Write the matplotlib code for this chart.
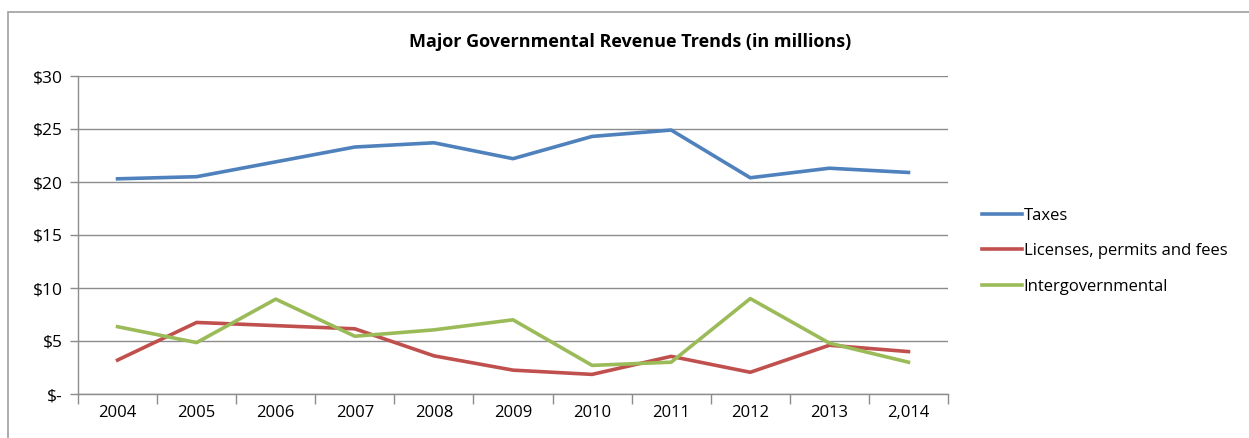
import matplotlib
matplotlib.use("Agg")
import matplotlib.pyplot as plt
from matplotlib.patches import Rectangle
from matplotlib.ticker import FixedLocator, FuncFormatter

plt.rcParams["font.family"] = ["Open Sans", "DejaVu Sans"]

# ── data (millions of dollars) ───────────────────────────────────────────────
years = ["2004", "2005", "2006", "2007", "2008", "2009",
         "2010", "2011", "2012", "2013", "2,014"]
taxes = [20.3, 20.5, 21.9, 23.3, 23.7, 22.2, 24.3, 24.9, 20.4, 21.3, 20.9]
licenses = [3.2, 6.75, 6.45, 6.15, 3.6, 2.25, 1.85, 3.55, 2.05, 4.6, 4.0]
intergov = [6.35, 4.85, 8.95, 5.45, 6.05, 7.0, 2.7, 3.0, 9.0, 4.8, 3.0]

series = [("Taxes", taxes, "#4F81BD"),
          ("Licenses, permits and fees", licenses, "#C0504D"),
          ("Intergovernmental", intergov, "#9BBB59")]

GRID = "#8C8C8C"

fig = plt.figure(figsize=(12.49, 4.38), dpi=100)
fig.patch.set_facecolor("white")

# chart-area border (runs off the right and bottom edges)
fig.patches.append(Rectangle((8 / 1249, -0.05), 1.1, 1.05 - 12 / 438,
                             transform=fig.transFigure, fill=False,
                             edgecolor="#A6A6A6", linewidth=1.3))

ax = fig.add_axes([78 / 1249, 1 - 394 / 438, 870 / 1249, 318 / 438])

x = list(range(len(years)))
for name, vals, color in series:
    ax.plot(x, vals, color=color, linewidth=2.6, label=name,
            solid_joinstyle="round")

ax.set_xlim(-0.5, len(years) - 0.5)
ax.set_ylim(0, 30)

# y axis: accounting style labels
ax.yaxis.set_major_locator(FixedLocator(range(0, 31, 5)))
ax.yaxis.set_major_formatter(
    FuncFormatter(lambda v, p: "$-" if v == 0 else f"${int(v)}"))
ax.grid(axis="y", color=GRID, linewidth=1.0)
ax.set_axisbelow(True)

# x axis: labels centred, tick marks between categories
ax.set_xticks(x)
ax.set_xticklabels(years)
ax.set_xticks([i - 0.5 for i in range(len(years) + 1)], minor=True)
ax.tick_params(axis="x", which="major", length=0, pad=8, labelsize=12)
ax.tick_params(axis="x", which="minor", length=7, color=GRID, width=1)
ax.tick_params(axis="y", length=6, color=GRID, width=1, pad=5,
               labelsize=12.5)

for side in ("top", "right"):
    ax.spines[side].set_visible(False)
for side in ("left", "bottom"):
    ax.spines[side].set_color(GRID)
    ax.spines[side].set_linewidth(1.0)

fig.text(630 / 1249, 1 - 42 / 438,
         "Major Governmental Revenue Trends (in millions)",
         ha="center", va="center", fontsize=13, fontweight="bold")

fig.legend(loc="upper left", bbox_to_anchor=(975 / 1249, 1 - 201 / 438),
           frameon=False, fontsize=12, handlelength=2.4,
           handletextpad=0.12, labelspacing=1.17, borderaxespad=0)

fig.savefig("out.png", dpi=100, facecolor=fig.get_facecolor())
